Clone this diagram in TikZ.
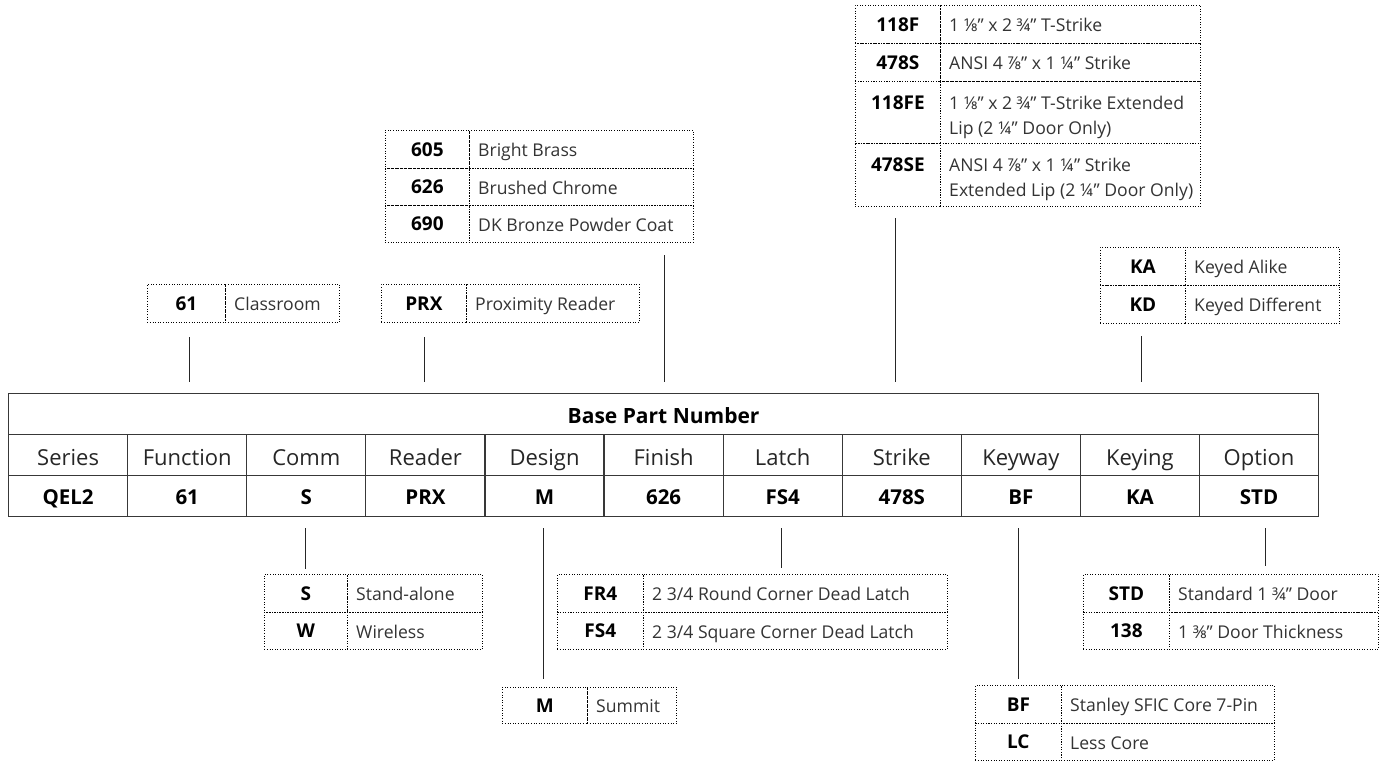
\documentclass[tikz,border=0pt]{standalone}
\usepackage{fontspec}
\setmainfont{Open Sans}
\begin{document}
\begin{tikzpicture}[x=1pt,y=-1pt,
  dotbox/.style={draw=black, line width=0.7pt, dash pattern=on 0.7pt off 1.9pt, inner sep=0pt, anchor=north west},
  codetxt/.style={font=\fontsize{19}{22}\selectfont\bfseries, inner sep=0pt, anchor=base},
  desctxt/.style={font=\fontsize{17.6}{22}\selectfont, text=black!80, inner sep=0pt, anchor=base west},
  maincell/.style={draw=black!78, line width=1.2pt, anchor=north west, inner sep=0pt, minimum height=41pt},
  labtxt/.style={font=\fontsize{22}{24}\selectfont, text=black!85, inner sep=0pt, anchor=base},
  valtxt/.style={font=\fontsize{20.5}{22}\selectfont\bfseries, inner sep=0pt, anchor=base},
  conn/.style={draw=black!85, line width=1pt}]
\useasboundingbox (0,0) rectangle (1383,761);
% option row: name, x0, xd, x1, ytop, height, code, desc
\newcommand\orow[8]{%
  \pgfmathsetmacro\cw{#3-#2}\pgfmathsetmacro\dw{#4-#3}%
  \node[dotbox, minimum width=\cw pt, minimum height=#6pt] (#1c) at (#2,#5) {};
  \node[dotbox, minimum width=\dw pt, minimum height=#6pt] (#1d) at (#3,#5) {};
  \node[codetxt] (#1ct) at ([yshift=-7pt]#1c.center) {#7};
  \node[desctxt] (#1dt) at ([xshift=9pt,yshift=-7.5pt]#1d.west) {#8};}
% two-line option row: name, x0, xd, x1, ytop, height, code, line1, line2
\newcommand\orowtwo[9]{%
  \pgfmathsetmacro\cw{#3-#2}\pgfmathsetmacro\dw{#4-#3}%
  \node[dotbox, minimum width=\cw pt, minimum height=#6pt] (#1c) at (#2,#5) {};
  \node[dotbox, minimum width=\dw pt, minimum height=#6pt] (#1d) at (#3,#5) {};
  \node[codetxt] (#1ct) at ([yshift=3pt]#1c.center) {#7};
  \node[desctxt] (#1dt) at ([xshift=9pt,yshift=3pt]#1d.west) {#8};
  \node[desctxt] (#1du) at ([xshift=9pt,yshift=-22pt]#1d.west) {#9};}
% main table
\node[maincell, minimum width=1310pt] (base) at (8,393) {};
\node[valtxt, font=\fontsize{21}{24}\selectfont\bfseries] (basetxt) at ([yshift=-9.5pt]base.center) {Base Part Number};
\foreach \i/\l/\v in {0/Series/QEL2,1/Function/61,2/Comm/S,3/Reader/PRX,4/Design/M,5/Finish/626,6/Latch/FS4,7/Strike/478S,8/Keyway/BF,9/Keying/KA,10/Option/STD}{
  \node[maincell, minimum width=119.09pt] (lab\i) at (8+119.09*\i,434) {};
  \node[labtxt] (labt\i) at ([yshift=-10.5pt]lab\i.center) {\l};
  \node[maincell, minimum width=119.09pt] (val\i) at (8+119.09*\i,475) {};
  \node[valtxt] (valt\i) at ([yshift=-8.5pt]val\i.center) {\v};
}
% function
\orow{fa}{147}{225}{339}{284}{38}{61}{Classroom}
% reader
\orow{ra}{381}{466}{639}{284}{38}{PRX}{Proximity Reader}
% finish
\orow{fia}{385}{469}{693}{130}{38}{605}{Bright Brass}
\orow{fib}{385}{469}{693}{168}{37}{626}{Brushed Chrome}
\orow{fic}{385}{469}{693}{205}{37}{690}{DK Bronze Powder Coat}
% strike
\orow{sa}{855}{940}{1200}{5}{38}{118F}{1 ⅛" x 2 ¾" T-Strike}
\orow{sb}{855}{940}{1200}{43}{38}{478S}{ANSI 4 ⅞" x 1 ¼" Strike}
\orowtwo{sc}{855}{940}{1200}{81}{62}{118FE}{1 ⅛" x 2 ¾" T-Strike Extended}{Lip (2 ¼" Door Only)}
\orowtwo{sd}{855}{940}{1200}{143}{63}{478SE}{ANSI 4 ⅞" x 1 ¼" Strike}{Extended Lip (2 ¼" Door Only)}
% keying
\orow{ka}{1100}{1185}{1339}{247}{38}{KA}{Keyed Alike}
\orow{kb}{1100}{1185}{1339}{285}{38}{KD}{Keyed Different}
% comm
\orow{ca}{264}{347}{482}{574}{38}{S}{Stand-alone}
\orow{cb}{264}{347}{482}{612}{37}{W}{Wireless}
% latch
\orow{la}{557}{643}{947}{574}{38}{FR4}{2 3/4 Round Corner Dead Latch}
\orow{lb}{557}{643}{947}{612}{37}{FS4}{2 3/4 Square Corner Dead Latch}
% design
\orow{da}{502}{587}{676}{687}{36}{M}{Summit}
% option
\orow{oa}{1083}{1169}{1378}{574}{38}{STD}{Standard 1 ¾" Door}
\orow{ob}{1083}{1169}{1378}{612}{37}{138}{1 ⅜" Door Thickness}
% keyway
\orow{ya}{975}{1061}{1274}{685}{38}{BF}{Stanley SFIC Core 7-Pin}
\orow{yb}{975}{1061}{1274}{723}{37}{LC}{Less Core}
% connectors
\coordinate (fnA) at (189,337); \coordinate (fnB) at (189,382);
\coordinate (rdA) at (424,337); \coordinate (rdB) at (424,382);
\coordinate (fiA) at (664,255); \coordinate (fiB) at (664,382);
\coordinate (stA) at (895,218); \coordinate (stB) at (895,382);
\coordinate (kgA) at (1141,336); \coordinate (kgB) at (1141,382);
\coordinate (cmA) at (305,528); \coordinate (cmB) at (305,569);
\coordinate (dsA) at (543,528); \coordinate (dsB) at (543,679);
\coordinate (ltA) at (781,528); \coordinate (ltB) at (781,568);
\coordinate (kwA) at (1018,528); \coordinate (kwB) at (1018,679);
\coordinate (opA) at (1265,528); \coordinate (opB) at (1265,566);
\foreach \p in {fn,rd,fi,st,kg,cm,ds,lt,kw,op}{\draw[conn] (\p A) -- (\p B);}
\end{tikzpicture}
\end{document}
